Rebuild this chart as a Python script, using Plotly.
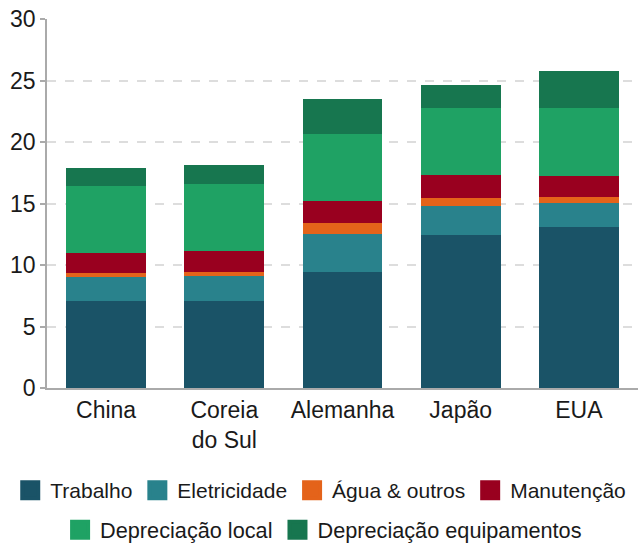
import plotly.graph_objects as go

# Cost components per country (stacked), units on the y axis
categories = ["China", "Coreia<br>do Sul", "Alemanha", "Japão", "EUA"]
trabalho = [7.05, 7.05, 9.41, 12.42, 13.07]
eletricidade = [1.95, 2.04, 3.09, 2.36, 1.96]
agua_outros = [0.33, 0.32, 0.90, 0.65, 0.48]
manutencao = [1.63, 1.71, 1.79, 1.87, 1.71]
depreciacao_local = [5.45, 5.45, 5.45, 5.46, 5.54]
depreciacao_equip = [1.46, 1.55, 2.85, 1.87, 3.01]

series = [
    ("Trabalho", trabalho, "#1a5367", "legend"),
    ("Eletricidade", eletricidade, "#29828c", "legend"),
    ("Água & outros", agua_outros, "#e4631a", "legend"),
    ("Manutenção", manutencao, "#99001f", "legend"),
    ("Depreciação local", depreciacao_local, "#1fa264", "legend2"),
    ("Depreciação equipamentos", depreciacao_equip, "#17764f", "legend2"),
]

fig = go.Figure()
for name, vals, color, _ in series:
    fig.add_trace(go.Bar(
        x=categories, y=vals, name=name, showlegend=False,
        marker=dict(color=color, line=dict(width=0)),
    ))

# Legend keys: large square swatches, split over two centred rows
for name, _, color, leg in series:
    fig.add_trace(go.Scatter(
        x=[None], y=[None], mode="markers", name=name, legend=leg,
        marker=dict(symbol="square", size=16, color=color,
                    line=dict(color=color, width=4)),
        hoverinfo="skip",
    ))

font_family = "Liberation Sans, Arial, sans-serif"
legend_common = dict(
    orientation="h",
    xref="paper", yref="paper",
    yanchor="middle",
    traceorder="normal",
    itemwidth=30,
    bgcolor="rgba(0,0,0,0)",
)

fig.update_layout(
    barmode="stack",
    bargap=0.324,
    width=638, height=543,
    margin=dict(l=47, r=0, t=19, b=155, autoexpand=False),
    paper_bgcolor="white",
    plot_bgcolor="white",
    font=dict(family=font_family, size=23, color="#1a1a1a"),
    showlegend=True,
    legend=dict(legend_common, x=-0.0622, xanchor="left", y=-0.278,
                font=dict(family=font_family, size=21, color="#1a1a1a")),
    legend2=dict(legend_common, x=0.468, xanchor="center", y=-0.385,
                 font=dict(family=font_family, size=21.7, color="#1a1a1a")),
    xaxis=dict(
        showline=True, linecolor="#aaaaaa", linewidth=2,
        ticks="", tickfont=dict(size=23),
        showgrid=False,
    ),
    yaxis=dict(
        range=[0, 30],
        tickvals=[0, 5, 10, 15, 20, 25, 30],
        showline=True, linecolor="#aaaaaa", linewidth=1.5,
        ticks="outside", ticklen=5, tickcolor="#aaaaaa", tickwidth=1.5,
        showgrid=True, gridcolor="#dddddd", griddash="dash", gridwidth=1.5,
        zeroline=False,
        tickfont=dict(size=23),
    ),
)

fig.write_html("out.html")
